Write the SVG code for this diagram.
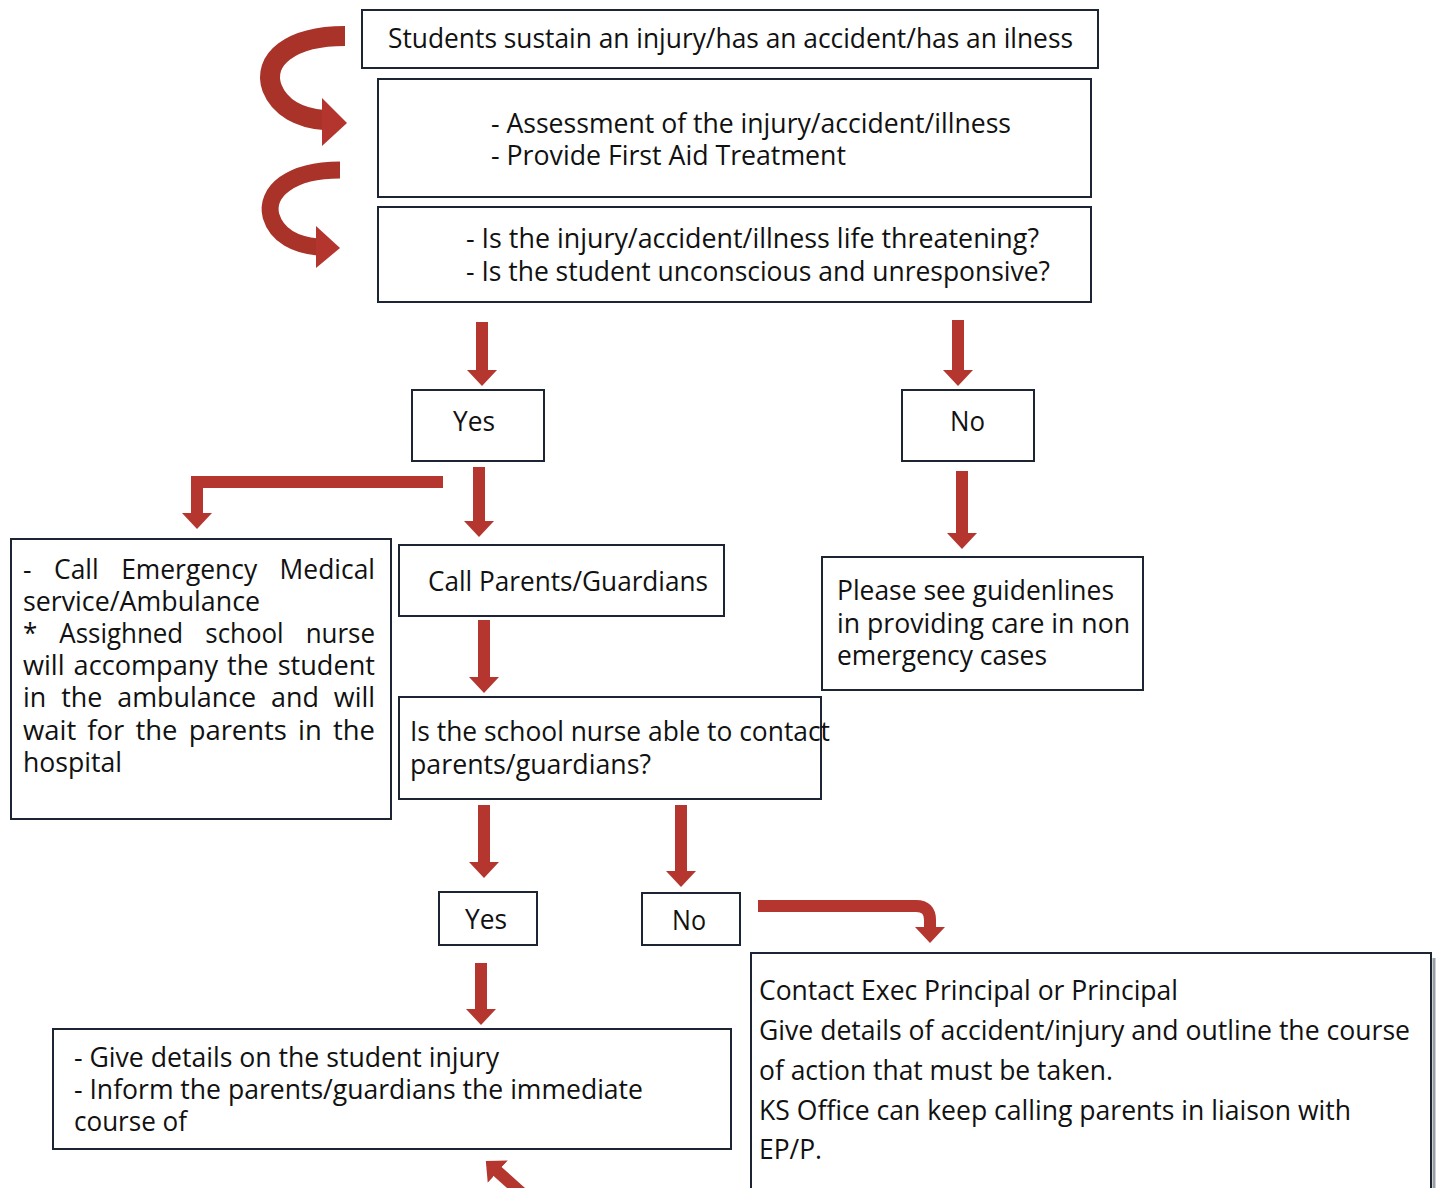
<svg xmlns="http://www.w3.org/2000/svg" width="1439" height="1188" viewBox="0 0 1439 1188">
<style>
.box{fill:#fff;stroke:#1d2535;stroke-width:2}
.t{font-family:"Open Sans","Noto Sans","Liberation Sans",sans-serif;font-size:27px;fill:#111}
.tb{font-size:28px}
.bar{fill:none;stroke:#b5362f;stroke-width:12}
.curve{fill:none;stroke:#a93329;stroke-linecap:butt}
.hd{fill:#b3352e}
</style>
<defs>
<marker id="ah" viewBox="0 0 16 30" refX="1" refY="15" markerWidth="16" markerHeight="30" markerUnits="userSpaceOnUse" orient="auto">
<path d="M0,0 L16,15 L0,30 z" fill="#b5362f"/>
</marker>
</defs>
<rect width="1439" height="1188" fill="#fff"/>

<g id="connectors">
<path class="curve" d="M345,36 C290,36 262,60 272,88 C280,108 300,118 324,120" stroke-width="20"/>
<polygon class="hd" points="322,98 347,123 322,146"/>
<path class="curve" d="M340,170 C290,170 265,192 271,216 C277,236 296,245 318,247" stroke-width="17"/>
<polygon class="hd" points="316,226 340,248 316,268"/>
<path class="bar" d="M482,322 V371" marker-end="url(#ah)"/>
<path class="bar" d="M958,320 V371" marker-end="url(#ah)"/>
<path class="bar" d="M479,467 V522" marker-end="url(#ah)"/>
<path class="bar" d="M443,482 H197 V514" marker-end="url(#ah)"/>
<path class="bar" d="M962,471 V534" marker-end="url(#ah)"/>
<path class="bar" d="M484,620 V678" marker-end="url(#ah)"/>
<path class="bar" d="M484,805 V863" marker-end="url(#ah)"/>
<path class="bar" d="M681,805 V872" marker-end="url(#ah)"/>
<path class="bar" d="M758,906 H916 Q930,906 930,920 V928" marker-end="url(#ah)"/>
<path class="bar" d="M481,963 V1010" marker-end="url(#ah)"/>
<path class="bar" d="M535,1205 L497,1171" marker-end="url(#ah)"/>
</g>

<g id="n1">
<rect class="box" x="362" y="10" width="736" height="58"/>
<text class="t" x="388" y="48" textLength="685" lengthAdjust="spacingAndGlyphs">Students sustain an injury/has an accident/has an ilness</text>
</g>
<g id="n2">
<rect class="box" x="378" y="79" width="713" height="118"/>
<text class="t" x="491" y="133" textLength="520" lengthAdjust="spacingAndGlyphs">- Assessment of the injury/accident/illness</text>
<text class="t" x="491" y="165" textLength="355" lengthAdjust="spacingAndGlyphs">- Provide First Aid Treatment</text>
</g>
<g id="n3">
<rect class="box" x="378" y="207" width="713" height="95"/>
<text class="t" x="466" y="248" textLength="573" lengthAdjust="spacingAndGlyphs">- Is the injury/accident/illness life threatening?</text>
<text class="t" x="466" y="281" textLength="584" lengthAdjust="spacingAndGlyphs">- Is the student unconscious and unresponsive?</text>
</g>
<g id="yes1">
<rect class="box" x="412" y="390" width="132" height="71"/>
<text class="t" x="453" y="431" textLength="42" lengthAdjust="spacingAndGlyphs">Yes</text>
</g>
<g id="no1">
<rect class="box" x="902" y="390" width="132" height="71"/>
<text class="t" x="950" y="431" textLength="35" lengthAdjust="spacingAndGlyphs">No</text>
</g>
<g id="ambulance">
<rect class="box" x="11" y="539" width="380" height="280"/>
<text class="t" x="23" y="579" textLength="352" lengthAdjust="spacingAndGlyphs" word-spacing="16">- Call Emergency Medical</text>
<text class="t" x="23" y="611" textLength="237" lengthAdjust="spacingAndGlyphs">service/Ambulance</text>
<text class="t" x="23" y="643" textLength="352" lengthAdjust="spacingAndGlyphs" word-spacing="16">* Assighned school nurse</text>
<text class="t" x="23" y="675" textLength="352" lengthAdjust="spacingAndGlyphs" word-spacing="2">will accompany the student</text>
<text class="t" x="23" y="707" textLength="352" lengthAdjust="spacingAndGlyphs" word-spacing="8">in the ambulance and will</text>
<text class="t" x="23" y="740" textLength="352" lengthAdjust="spacingAndGlyphs" word-spacing="4">wait for the parents in the</text>
<text class="t" x="23" y="772" textLength="99" lengthAdjust="spacingAndGlyphs">hospital</text>
</g>
<g id="callparents">
<rect class="box" x="399" y="545" width="325" height="71"/>
<text class="t" x="428" y="591" textLength="280" lengthAdjust="spacingAndGlyphs">Call Parents/Guardians</text>
</g>
<g id="nonemergency">
<rect class="box" x="822" y="557" width="321" height="133"/>
<text class="t" x="837" y="600" textLength="277" lengthAdjust="spacingAndGlyphs">Please see guidenlines</text>
<text class="t" x="837" y="633" textLength="293" lengthAdjust="spacingAndGlyphs">in providing care in non</text>
<text class="t" x="837" y="665" textLength="210" lengthAdjust="spacingAndGlyphs">emergency cases</text>
</g>
<g id="nurse">
<rect class="box" x="399" y="697" width="422" height="102"/>
<text class="t" x="410" y="741" textLength="420" lengthAdjust="spacingAndGlyphs">Is the school nurse able to contact</text>
<text class="t" x="410" y="774" textLength="241" lengthAdjust="spacingAndGlyphs">parents/guardians?</text>
</g>
<g id="yes2">
<rect class="box" x="439" y="892" width="98" height="53"/>
<text class="t" x="465" y="929" textLength="42" lengthAdjust="spacingAndGlyphs">Yes</text>
</g>
<g id="no2">
<rect class="box" x="642" y="893" width="98" height="52"/>
<text class="t" x="672" y="930" textLength="34" lengthAdjust="spacingAndGlyphs">No</text>
</g>
<g id="details">
<rect class="box" x="53" y="1029" width="678" height="120"/>
<text class="t" x="74" y="1067" textLength="425" lengthAdjust="spacingAndGlyphs">- Give details on the student injury</text>
<text class="t" x="74" y="1099" textLength="569" lengthAdjust="spacingAndGlyphs">- Inform the parents/guardians the immediate</text>
<text class="t" x="74" y="1131" textLength="113" lengthAdjust="spacingAndGlyphs">course of</text>
</g>
<g id="principal">
<path d="M1434,958 V1188" fill="none" stroke="#9a9ea6" stroke-width="3"/>
<rect x="751" y="953" width="680" height="235" fill="#fff"/>
<path d="M751,1188 V953 H1431 V1188" fill="none" stroke="#1d2535" stroke-width="2"/>
<text class="t tb" x="759" y="1000" textLength="419" lengthAdjust="spacingAndGlyphs">Contact Exec Principal or Principal</text>
<text class="t tb" x="759" y="1040" textLength="651" lengthAdjust="spacingAndGlyphs">Give details of accident/injury and outline the course</text>
<text class="t tb" x="759" y="1080" textLength="354" lengthAdjust="spacingAndGlyphs">of action that must be taken.</text>
<text class="t tb" x="759" y="1120" textLength="592" lengthAdjust="spacingAndGlyphs">KS Office can keep calling parents in liaison with</text>
<text class="t tb" x="759" y="1159" textLength="63" lengthAdjust="spacingAndGlyphs">EP/P.</text>
</g>
</svg>
